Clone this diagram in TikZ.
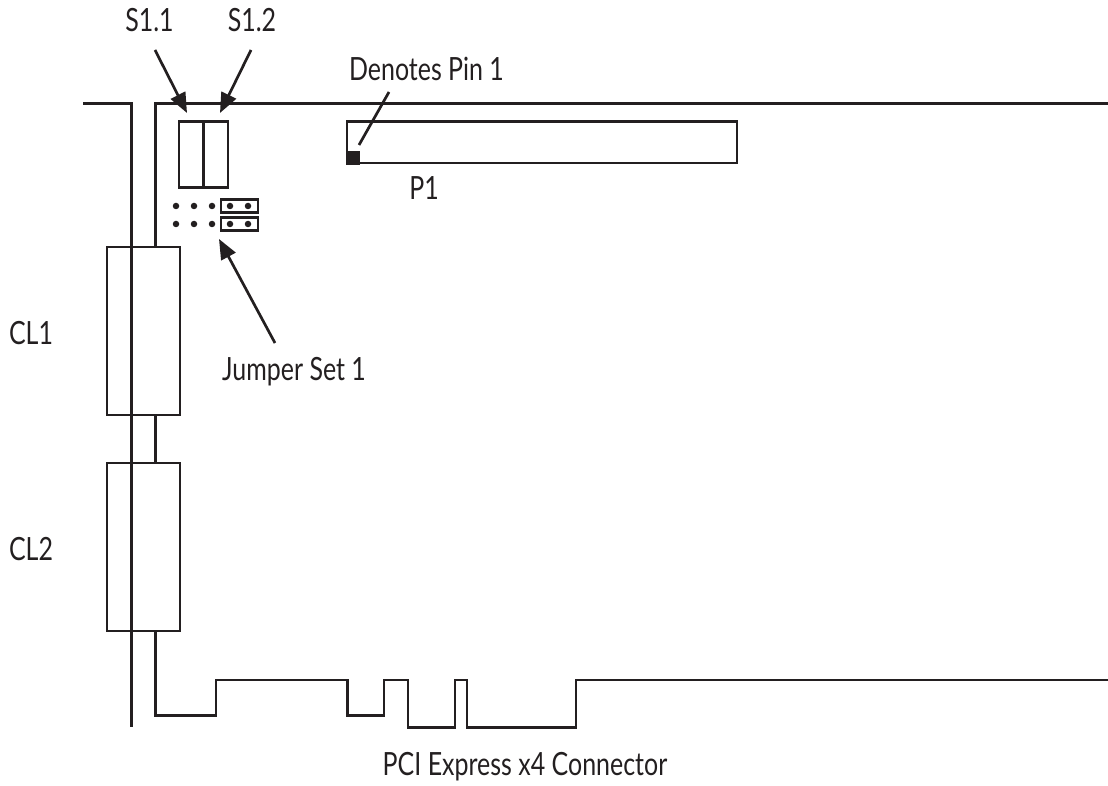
\documentclass[tikz,border=0pt]{standalone}
\usepackage{fontspec}
\setmainfont[FakeStretch=0.78]{Lato}
\usetikzlibrary{arrows.meta}
\definecolor{ink}{HTML}{231F20}
\tikzset{
  x=1pt,y=-1pt,
  wire/.style={draw=ink,line width=2.7pt,line cap=butt,line join=miter},
  part/.style={draw=ink,line width=2.7pt,minimum width=0pt,minimum height=0pt,inner sep=0pt,outer sep=0pt,anchor=north west},
  lbl/.style={text=ink,font=\fontsize{32}{36}\selectfont,inner sep=0pt,anchor=base},
  pointer/.style={draw=ink,line width=2.7pt,-{Triangle[length=20pt,width=16pt]}},
  pinline/.style={draw=ink,line width=2.7pt},
  pinhole/.style={circle,fill=ink,minimum size=6.5pt,inner sep=0pt}
}
\begin{document}
\begin{tikzpicture}
\useasboundingbox (0,0) rectangle (1108,786);
% board outline
\draw[wire] (83,103.5) -- (131.5,103.5) -- (131.5,727);
\draw[wire] (155.5,247) -- (155.5,103.5) -- (1108,103.5);
\draw[wire] (155.5,415) -- (155.5,463);
\draw[wire] (155.5,631) -- (155.5,715.5) -- (216,715.5) -- (216,680) -- (347.5,680) -- (347.5,715.5) -- (384,715.5) -- (384,680) -- (408,680) -- (408,727.5) -- (455,727.5) -- (455,680) -- (467,680) -- (467,727.5) -- (576,727.5) -- (576,680) -- (1108,680);
% connectors
\node[part,minimum width=73pt,minimum height=168pt] (cl1) at (107,247) {};
\node[part,minimum width=73pt,minimum height=168pt] (cl2) at (107,463) {};
% switches
\node[part,minimum width=24.5pt,minimum height=66pt] (s11) at (179,121.5) {};
\node[part,minimum width=24.5pt,minimum height=66pt] (s12) at (203.5,121.5) {};
% P1
\node[part,minimum width=390pt,minimum height=41.5pt] (p1) at (347,121.5) {};
\node[anchor=north west,fill=ink,minimum width=14pt,minimum height=14pt,inner sep=0pt] (pin) at (346,151) {};
% jumpers
\node[part,minimum width=37pt,minimum height=13pt] (j1) at (221,199.5) {};
\node[part,minimum width=37pt,minimum height=13pt] (j2) at (221,217.5) {};
\foreach \n/\px/\py in {a/176/206,b/194/206,c/212/206,d/230/206,e/248/206,f/176/224,g/194/224,h/212/224,k/230/224,l/248/224}
  \node[pinhole] (h\n) at (\px,\py) {};
% labels
\node[lbl] (ls1) at (149.5,32) {S1.1};
\node[lbl] (ls2) at (252,32) {S1.2};
\node[lbl] (ldp) at (426.5,81) {Denotes Pin 1};
\node[lbl] (lp1) at (424,200) {P1};
\node[lbl] (lcl1) at (31,344) {CL1};
\node[lbl] (lcl2) at (31,560) {CL2};
\node[lbl] (ljs) at (294,380) {Jumper Set 1};
\node[lbl] (lpci) at (525,775) {PCI Express x4 Connector};
% arrows
\coordinate (as1) at (187,113);
\coordinate (as2) at (220,113);
\coordinate (aj) at (219,239);
\coordinate (ap) at (359,145);
\draw[pointer] (155,50) -- (as1);
\draw[pointer] (251,50) -- (as2);
\draw[pointer] (275,343) -- (aj);
\draw[pinline] (389,92) -- (ap);
\end{tikzpicture}
\end{document}
